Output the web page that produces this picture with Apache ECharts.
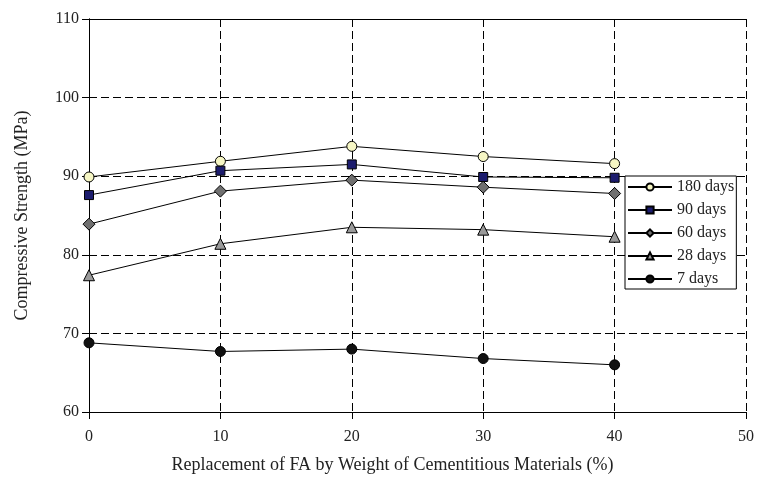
<!DOCTYPE html>
<html>
<head>
<meta charset="utf-8">
<script src="https://cdn.jsdelivr.net/npm/echarts@6/dist/echarts.min.js"></script>
<style>
    html, body { margin: 0; padding: 0; background: #fff; }
    #picture { width: 758px; height: 479px; }
</style>
</head>
<body>
<div id="picture"></div>
<script>
    // 数据
    var xData = [0, 10, 20, 30, 40];
    var d180 = [89.9, 91.9, 93.8, 92.5, 91.6];
    var d90 = [87.6, 90.7, 91.5, 89.9, 89.8];
    var d60 = [83.9, 88.1, 89.5, 88.6, 87.8];
    var d28 = [77.4, 81.4, 83.5, 83.2, 82.3];
    var d7 = [68.8, 67.7, 68.0, 66.8, 66.0];
    var seriesNames = ['180 days', '90 days', '60 days', '28 days', '7 days'];

    var pair = function(arr) {
        return xData.map(function(x, i) { return [x, arr[i]]; });
    };

    var myChart = echarts.init(document.getElementById('picture'));
    var font = 'Liberation Serif, Times New Roman, serif';

    var mk = function(name, data, symbol, size, fill) {
        return {
            name: name,
            type: 'line',
            data: pair(data),
            symbol: symbol,
            symbolSize: size,
            lineStyle: { color: '#000', width: 1 },
            itemStyle: { color: fill, borderColor: '#000', borderWidth: 1 },
            emphasis: { disabled: true },
            z: 5
        };
    };

    // 上边/右边的实线边框
    var frameAxis = {
        type: 'value',
        axisLine: { show: true, lineStyle: { color: '#000', width: 1 } },
        axisTick: { show: false },
        axisLabel: { show: false },
        splitLine: { show: false }
    };

    var option = {
        backgroundColor: '#fff',
        animation: false,
        grid: {
            left: 89,
            right: 12,
            top: 19,
            bottom: 67
        },
        legend: {
            data: seriesNames,
            orient: 'vertical',
            left: 625,
            top: 176,
            itemWidth: 44,
            itemHeight: 9,
            itemGap: 7,
            itemTextGap: 5,
            padding: [3, 2, 2, 2],
            backgroundColor: '#fff',
            borderColor: '#000',
            borderWidth: 1,
            textStyle: { fontFamily: font, fontSize: 16, color: '#222' }
        },
        xAxis: [{
            type: 'value',
            min: 0,
            max: 50,
            interval: 10,
            name: 'Replacement of FA by Weight of Cementitious Materials (%)',
            nameLocation: 'middle',
            nameGap: 44,
            nameTextStyle: { fontFamily: font, fontSize: 18, color: '#222', padding: [0, 50, 0, 0] },
            axisLine: { lineStyle: { color: '#000', width: 1 } },
            axisTick: { show: true, length: 7, lineStyle: { color: '#000' } },
            axisLabel: { fontFamily: font, fontSize: 16, color: '#222', margin: 17 },
            splitLine: { show: true, lineStyle: { color: '#000', type: [8, 4], width: 1 } }
        }, Object.assign({ position: 'top', min: 0, max: 50 }, frameAxis)],
        yAxis: [{
            type: 'value',
            min: 60,
            max: 110,
            interval: 10,
            name: 'Compressive Strength (MPa)',
            nameLocation: 'middle',
            nameGap: 58,
            nameTextStyle: { fontFamily: font, fontSize: 18, color: '#222' },
            axisLine: { lineStyle: { color: '#000', width: 1 } },
            axisTick: { show: true, length: 7, lineStyle: { color: '#000' } },
            axisLabel: { fontFamily: font, fontSize: 16, color: '#222', margin: 10 },
            splitLine: { show: true, lineStyle: { color: '#000', type: [8, 4], width: 1 } }
        }, Object.assign({ position: 'right', min: 60, max: 110 }, frameAxis)],
        series: [
            mk('180 days', d180, 'circle', 10, '#f6f6c4'),
            mk('90 days', d90, 'rect', 9, '#1c1c6e'),
            mk('60 days', d60, 'diamond', 12, '#707070'),
            mk('28 days', d28, 'triangle', 11, '#9a9a9a'),
            mk('7 days', d7, 'circle', 10, '#111')
        ]
    };
    myChart.setOption(option);
</script>
</body>
</html>
